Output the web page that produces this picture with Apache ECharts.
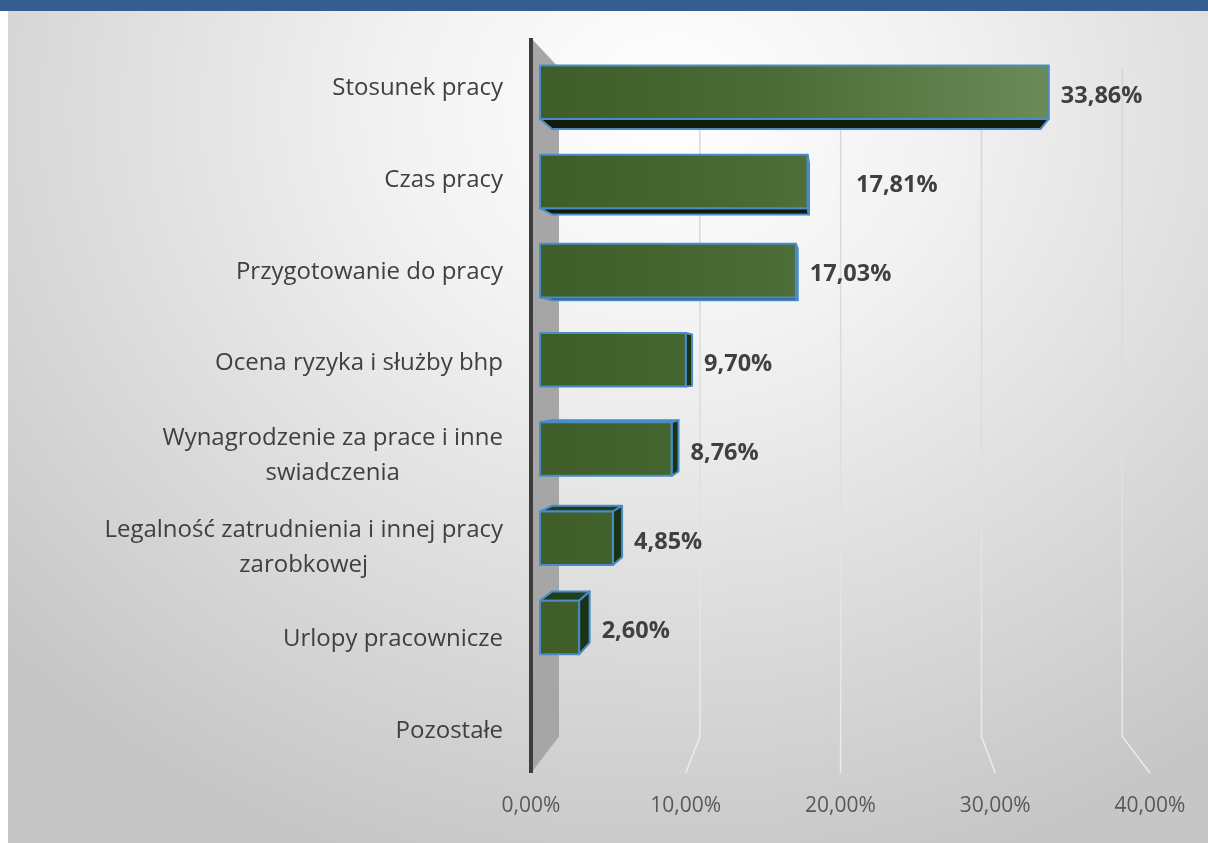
<!DOCTYPE html>
<html>
<head>
<meta charset="utf-8">
<script src="https://cdn.jsdelivr.net/npm/echarts@6/dist/echarts.min.js"></script>
<style>
  html, body { margin: 0; padding: 0; background: #ffffff; }
  .topbar { position: absolute; left: 0; top: 0; width: 1208px; height: 11px; background: #345e90; }
  .panel {
    position: absolute; left: 8px; top: 11px; width: 1200px; height: 832px;
    background: radial-gradient(ellipse 75% 95% at 55% 12%, #ffffff 0%, #f2f2f2 30%, #dcdcdc 65%, #c6c6c6 100%);
  }
  #chart { position: absolute; left: 0; top: 0; width: 1208px; height: 843px; }
</style>
</head>
<body>
<div class="topbar"></div>
<div class="panel"></div>
<div id="chart"></div>
<script>
// dane
const categories = [
  "Stosunek pracy",
  "Czas pracy",
  "Przygotowanie do pracy",
  "Ocena ryzyka i służby bhp",
  "Wynagrodzenie za prace i inne\nswiadczenia",
  "Legalność zatrudnienia i innej pracy\nzarobkowej",
  "Urlopy pracownicze",
  "Pozostałe",
];
const values = [33.86, 17.81, 17.03, 9.7, 8.76, 4.85, 2.6, 0];
const axisMin = 0;
const axisMax = 40;
const axisStep = 10;
const gridValues = [10, 20, 30, 40];

// perspektywa (efekt 3D)
const VP_VALUE = 20.1;   // punkt zbiegu - wartosc na osi X
const VP_Y = 0.45;       // punkt zbiegu - udzial wysokosci siatki
const F_BAR_FRONT = 0.971;
const F_BAR_BACK = 0.932;
const F_WALL = 0.91;

const fmt = (v) => v.toFixed(2).replace(".", ",") + "%";

function vanish(params, api) {
  const cs = params.coordSys;
  return [api.coord([VP_VALUE, 0])[0], cs.y + cs.height * VP_Y];
}
function proj(vp, x, y, f) {
  return [vp[0] + (x - vp[0]) * f, vp[1] + (y - vp[1]) * f];
}

// sciana boczna przy osi
function renderWall(params, api) {
  const cs = params.coordSys;
  const vp = vanish(params, api);
  const x = api.coord([0, 0])[0];
  const top = cs.y, bot = cs.y + cs.height;
  return {
    type: "group",
    children: [
      {
        type: "polygon",
        shape: { points: [[x, top], proj(vp, x, top, F_WALL), proj(vp, x, bot, F_WALL), [x, bot]] },
        style: { fill: "#a6a6a6" },
      },
      {
        type: "line",
        shape: { x1: x, y1: top, x2: x, y2: bot },
        style: { stroke: "#3d3d3d", lineWidth: 4 },
      },
    ],
  };
}

// linie siatki na tylnej scianie i podlodze
function renderGrid(params, api) {
  const cs = params.coordSys;
  const vp = vanish(params, api);
  const x = api.coord([api.value(0), 0])[0];
  const top = cs.y, bot = cs.y + cs.height;
  return {
    type: "polyline",
    shape: { points: [proj(vp, x, top, F_WALL), proj(vp, x, bot, F_WALL), [x, bot]] },
    style: {
      fill: null,
      lineWidth: 1.5,
      stroke: new echarts.graphic.LinearGradient(0, top, 0, bot, [
        { offset: 0, color: "#d6d6d6" },
        { offset: 0.5, color: "#dcdcdc" },
        { offset: 1, color: "#ececec" },
      ], true),
    },
  };
}

const labelNudge = { 1: 35 };

function renderBar(params, api) {
  const v = api.value(0);
  const i = api.value(1);
  if (!v) return;
  const vp = vanish(params, api);
  const a = api.coord([0, i]);
  const b = api.coord([v, i]);
  const h = api.size([0, 1])[1] * 0.3;
  const yT = a[1] - h, yB = a[1] + h;
  const fLT = proj(vp, a[0], yT, F_BAR_FRONT), fRT = proj(vp, b[0], yT, F_BAR_FRONT);
  const fRB = proj(vp, b[0], yB, F_BAR_FRONT), fLB = proj(vp, a[0], yB, F_BAR_FRONT);
  const bLT = proj(vp, a[0], yT, F_BAR_BACK), bRT = proj(vp, b[0], yT, F_BAR_BACK);
  const bRB = proj(vp, b[0], yB, F_BAR_BACK), bLB = proj(vp, a[0], yB, F_BAR_BACK);
  const edge = { stroke: "#4a8cc6", lineWidth: 2, lineJoin: "round" };
  const children = [];
  if (fLB[1] < vp[1]) {
    children.push({ type: "polygon", shape: { points: [fLB, fRB, bRB, bLB] }, style: Object.assign({ fill: "#111b0e" }, edge) });
  }
  if (fLT[1] > vp[1]) {
    children.push({ type: "polygon", shape: { points: [fLT, fRT, bRT, bLT] }, style: Object.assign({ fill: "#213d19" }, edge) });
  }
  if (fRT[0] < vp[0]) {
    children.push({ type: "polygon", shape: { points: [fRT, bRT, bRB, fRB] }, style: Object.assign({ fill: "#1a3215" }, edge) });
  }
  children.push({
    type: "polygon",
    shape: { points: [fLT, fRT, fRB, fLB] },
    style: Object.assign({
      fill: new echarts.graphic.LinearGradient(540, 0, 1060, 0, [
        { offset: 0, color: "#3e5d28" },
        { offset: 0.45, color: "#4b6c36" },
        { offset: 1, color: "#6c8d59" },
      ], true),
    }, edge),
  });
  const cy = proj(vp, a[0], a[1], F_BAR_FRONT)[1];
  children.push({
    type: "text",
    style: {
      text: fmt(v),
      x: Math.max(fRT[0], bRT[0]) + 12 + (labelNudge[i] || 0),
      y: cy + 4,
      align: "left",
      verticalAlign: "middle",
      fill: "#404040",
      font: 'bold 23.5px "Open Sans"',
    },
  });
  return { type: "group", children: children };
}

const chart = echarts.init(document.getElementById("chart"));
chart.setOption({
  animation: false,
  backgroundColor: "transparent",
  grid: { left: 531, right: 58, top: 38, bottom: 70, containLabel: false },
  xAxis: {
    type: "value",
    min: axisMin,
    max: axisMax,
    interval: axisStep,
    axisLine: { show: false },
    axisTick: { show: false },
    splitLine: { show: false },
    axisLabel: {
      margin: 23,
      formatter: (v) => fmt(v),
      color: "#595959",
      fontSize: 21,
      fontFamily: "Open Sans",
    },
  },
  yAxis: {
    type: "category",
    data: categories,
    inverse: true,
    axisLine: { show: false },
    axisTick: { show: false },
    axisLabel: {
      margin: 28,
      padding: [8, 0, 0, 0],
      color: "#404040",
      fontSize: 24,
      fontFamily: "Open Sans",
      lineHeight: 35,
      formatter: (v) => v.split("\n").map((s) => "{c|" + s + "}").join("\n"),
      rich: {
        c: { align: "center", color: "#404040", fontSize: 24, fontFamily: "Open Sans", lineHeight: 35 },
      },
    },
  },
  series: [
    {
      type: "custom",
      z: 1,
      renderItem: renderWall,
      encode: { x: 0, y: 1 },
      data: [[0, 0]],
      silent: true,
    },
    {
      type: "custom",
      z: 1,
      renderItem: renderGrid,
      encode: { x: 0, y: 1 },
      data: gridValues.map((g) => [g, 0]),
      silent: true,
    },
    {
      type: "custom",
      z: 3,
      renderItem: renderBar,
      encode: { x: 0, y: 1 },
      data: values.map((v, i) => [v, i]),
    },
  ],
});
</script>
</body>
</html>
